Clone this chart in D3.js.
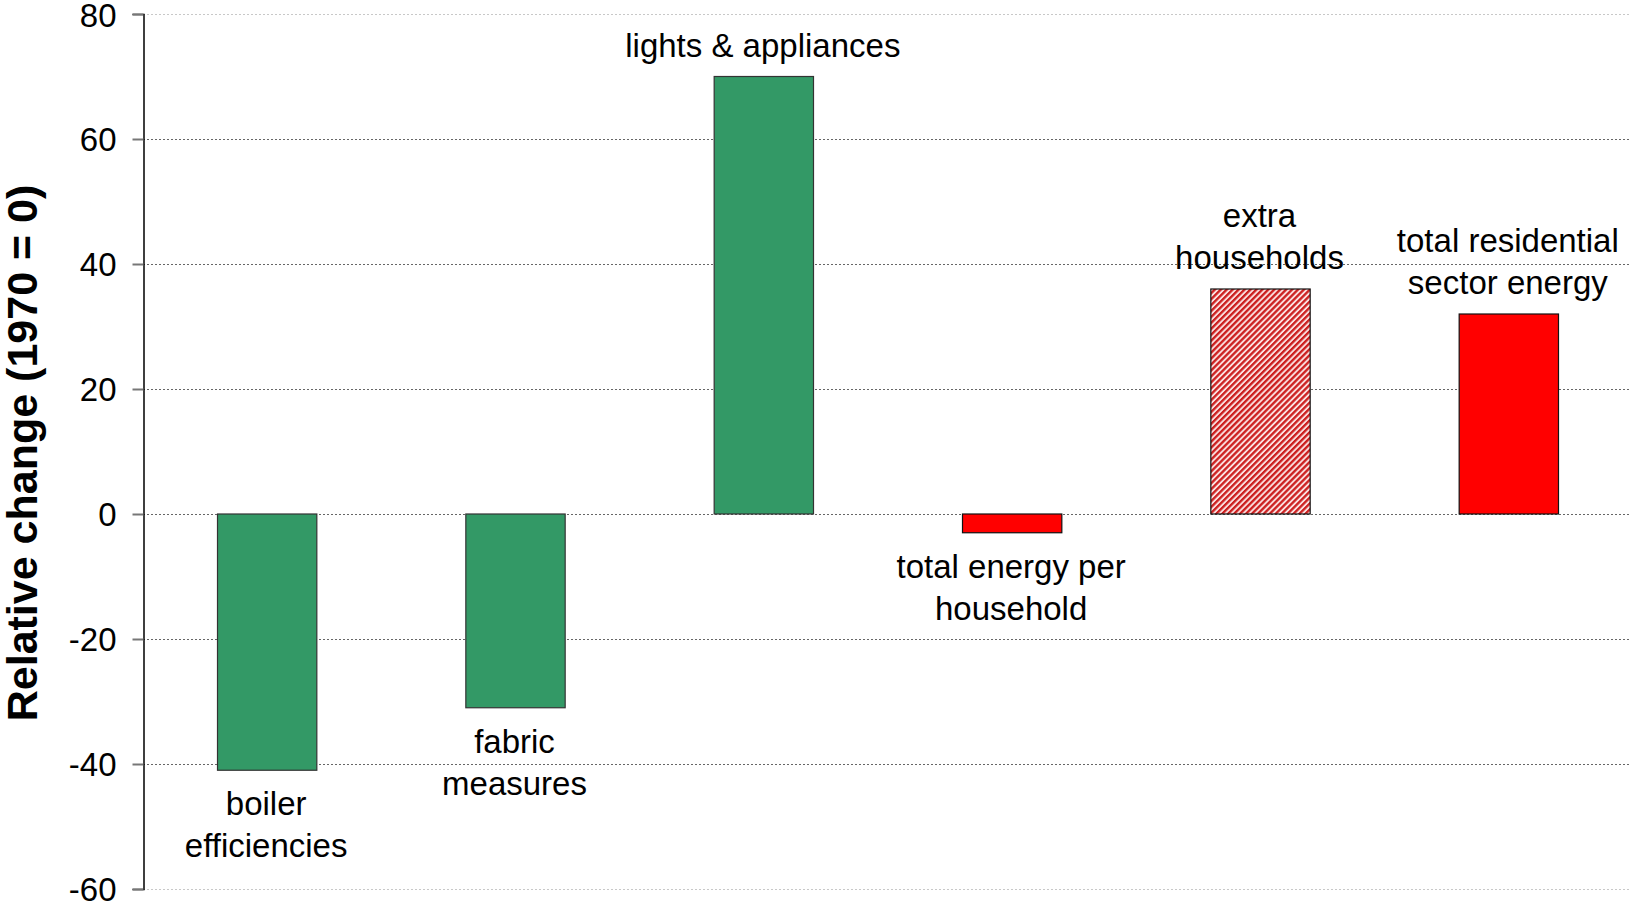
<!DOCTYPE html>
<html><head><meta charset="utf-8">
<script src="https://cdn.jsdelivr.net/npm/d3@7"></script>
<style>body{margin:0;background:#fff}svg{display:block}text{font-family:"Liberation Sans",Arial,sans-serif}</style>
</head><body>
<svg id="c" width="1633" height="907"></svg>
<script>
const categories = ["boiler efficiencies","fabric measures","lights & appliances","total energy per household","extra households","total residential sector energy"];
const labelLines = [["boiler","efficiencies"],["fabric","measures"],["lights & appliances"],["total energy per","household"],["extra","households"],["total residential","sector energy"]];
const values = [-41,-31,70,-3,36,32];
const fills = ["green","green","green","red","hatch","red"];
const yTicks = [80,60,40,20,0,-20,-40,-60];

const svg = d3.select("#c");
const W=1633,H=907;
const m={l:143,r:0,t:14,b:18};
const x=d3.scaleBand().domain(categories).range([m.l,W-m.r]).paddingInner(0.6).paddingOuter(0.3);
const y=d3.scaleLinear().domain([-60,80]).range([889,14]);

const defs=svg.append("defs");
const pat=defs.append("pattern").attr("id","hatch").attr("patternUnits","userSpaceOnUse")
 .attr("width",4.2).attr("height",10).attr("patternTransform","rotate(45)");
pat.append("rect").attr("width",4.2).attr("height",10).attr("fill","#fbe0e0");
pat.append("rect").attr("width",2.3).attr("height",10).attr("fill","#cc1f1f");

// gridlines
svg.append("g").selectAll("line").data(yTicks).join("line")
 .attr("x1",m.l).attr("x2",W-3).attr("y1",d=>y(d)+0.5).attr("y2",d=>y(d)+0.5)
 .attr("stroke",d=>(d===80||d===-60)?"#c8c8c8":"#666").attr("stroke-width",1).attr("stroke-dasharray","2,2");

// axis
const ax=svg.append("g").attr("transform",`translate(${m.l+0.5},0)`)
 .call(d3.axisLeft(y).tickValues(yTicks).tickSize(11).tickPadding(16).tickFormat(d=>String(d)));
ax.select(".domain").attr("stroke","#000").attr("stroke-width",1.5);
ax.selectAll(".tick line").attr("stroke","#777").attr("stroke-width",2);
ax.selectAll(".tick text").attr("font-size",33).attr("fill","#000").attr("font-family","Liberation Sans, Arial, sans-serif")
 .attr("dy",d=>d===80?"0.38em":"0.34em");

// bars
const colorOf=f=>f==="green"?"#339966":f==="red"?"#ff0000":"url(#hatch)";
svg.append("g").selectAll("rect").data(categories).join("rect")
 .attr("x",d=>x(d)).attr("width",x.bandwidth())
 .attr("y",(d,i)=>y(Math.max(0,values[i])))
 .attr("height",(d,i)=>Math.abs(y(values[i])-y(0)))
 .attr("fill",(d,i)=>colorOf(fills[i]))
 .attr("stroke",(d,i)=>fills[i]==="green"?"#333":"#111").attr("stroke-width",1.2);

// labels
const lh=42;
categories.forEach((c,i)=>{
  const v=values[i], lines=labelLines[i];
  const cx=x(c)+x.bandwidth()/2-1;
  let firstCenter;
  if(v>=0){ firstCenter=y(v)-31-(lines.length-1)*lh; }
  else { firstCenter=y(v)+34; }
  const t=svg.append("text").attr("text-anchor","middle").attr("font-size",33).attr("fill","#000");
  lines.forEach((ln,k)=>{
    t.append("tspan").attr("x",cx).attr("y",firstCenter+k*lh+11).text(ln);
  });
});

// y title
svg.append("text").attr("transform",`translate(37,453) rotate(-90)`)
 .attr("text-anchor","middle").attr("font-size",43).attr("font-weight","bold").attr("fill","#000")
 .text("Relative change (1970 = 0)");
</script>
</body></html>
